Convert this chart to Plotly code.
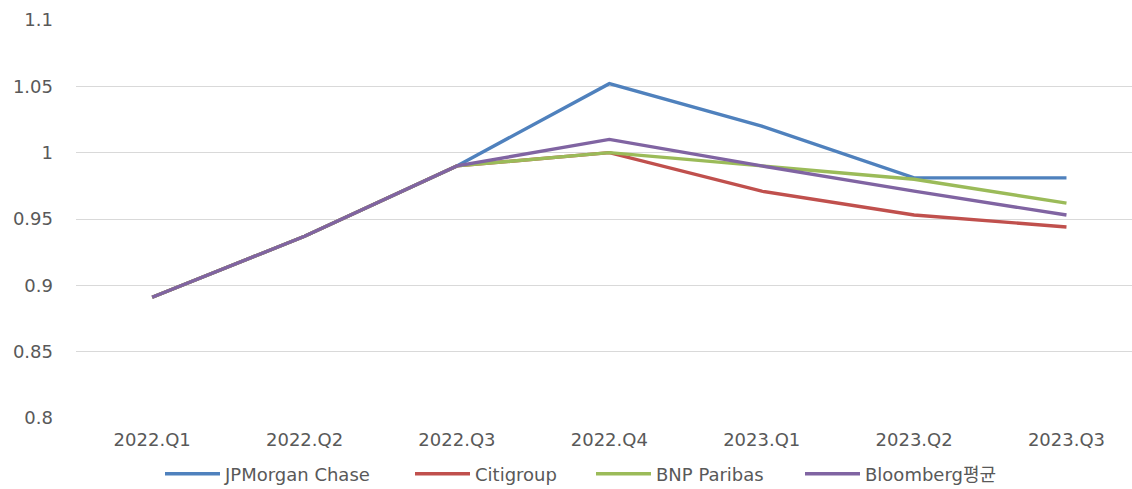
import plotly.graph_objects as go

quarters = ["2022.Q1", "2022.Q2", "2022.Q3", "2022.Q4", "2023.Q1", "2023.Q2", "2023.Q3"]
jpmorgan = [0.891, 0.937, 0.990, 1.052, 1.020, 0.981, 0.981]
citigroup = [0.891, 0.937, 0.990, 1.000, 0.971, 0.953, 0.944]
bnp = [0.891, 0.937, 0.990, 1.000, 0.990, 0.980, 0.962]
bloomberg = [0.891, 0.937, 0.990, 1.010, 0.990, 0.971, 0.953]
y_ticks = [0.8, 0.85, 0.9, 0.95, 1.0, 1.05, 1.1]
y_tick_text = ["0.8", "0.85", "0.9", "0.95", "1", "1.05", "1.1"]

series = [
    ("JPMorgan Chase", jpmorgan, "#4F81BD"),
    ("Citigroup", citigroup, "#C0504D"),
    ("BNP Paribas", bnp, "#9BBB59"),
    ("Bloomberg평균", bloomberg, "#8064A2"),
]
legend_ids = ["legend", "legend2", "legend3", "legend4"]
legend_x_px = [160, 410, 591, 800]

W, H = 1132, 489
font = "DejaVu Sans, Noto Sans CJK KR, sans-serif"
txt_color = "#595959"

fig = go.Figure()
for (name, vals, color), lid in zip(series, legend_ids):
    fig.add_trace(go.Scatter(x=quarters, y=vals, mode="lines", name=name,
                             legend=lid, line=dict(color=color, width=3.4)))

legend_common = dict(orientation="h", xref="container", yref="container",
                     xanchor="left", yanchor="middle", y=(H - 474) / H,
                     font=dict(family=font, size=18, color=txt_color),
                     itemwidth=55, bgcolor="rgba(0,0,0,0)")
layout_legends = {}
for lid, xp in zip(legend_ids, legend_x_px):
    layout_legends[lid] = dict(legend_common, x=xp / W)

fig.update_layout(
    width=W, height=H,
    margin=dict(l=76, r=0, t=20, b=71),
    paper_bgcolor="white", plot_bgcolor="white",
    font=dict(family=font, size=18, color=txt_color),
    showlegend=True,
    xaxis=dict(type="category", range=[-0.5, 6.43], showgrid=False, showline=False,
               ticks="", ticklabelstandoff=9, tickfont=dict(size=18, color=txt_color)),
    yaxis=dict(range=[0.8, 1.1], tickvals=y_ticks, ticktext=y_tick_text,
               showgrid=True, gridcolor="#D9D9D9", gridwidth=1, zeroline=False,
               showline=False, ticks="", ticklabelstandoff=22,
               tickfont=dict(size=18, color=txt_color)),
    **layout_legends,
)

fig.write_html("out.html")
